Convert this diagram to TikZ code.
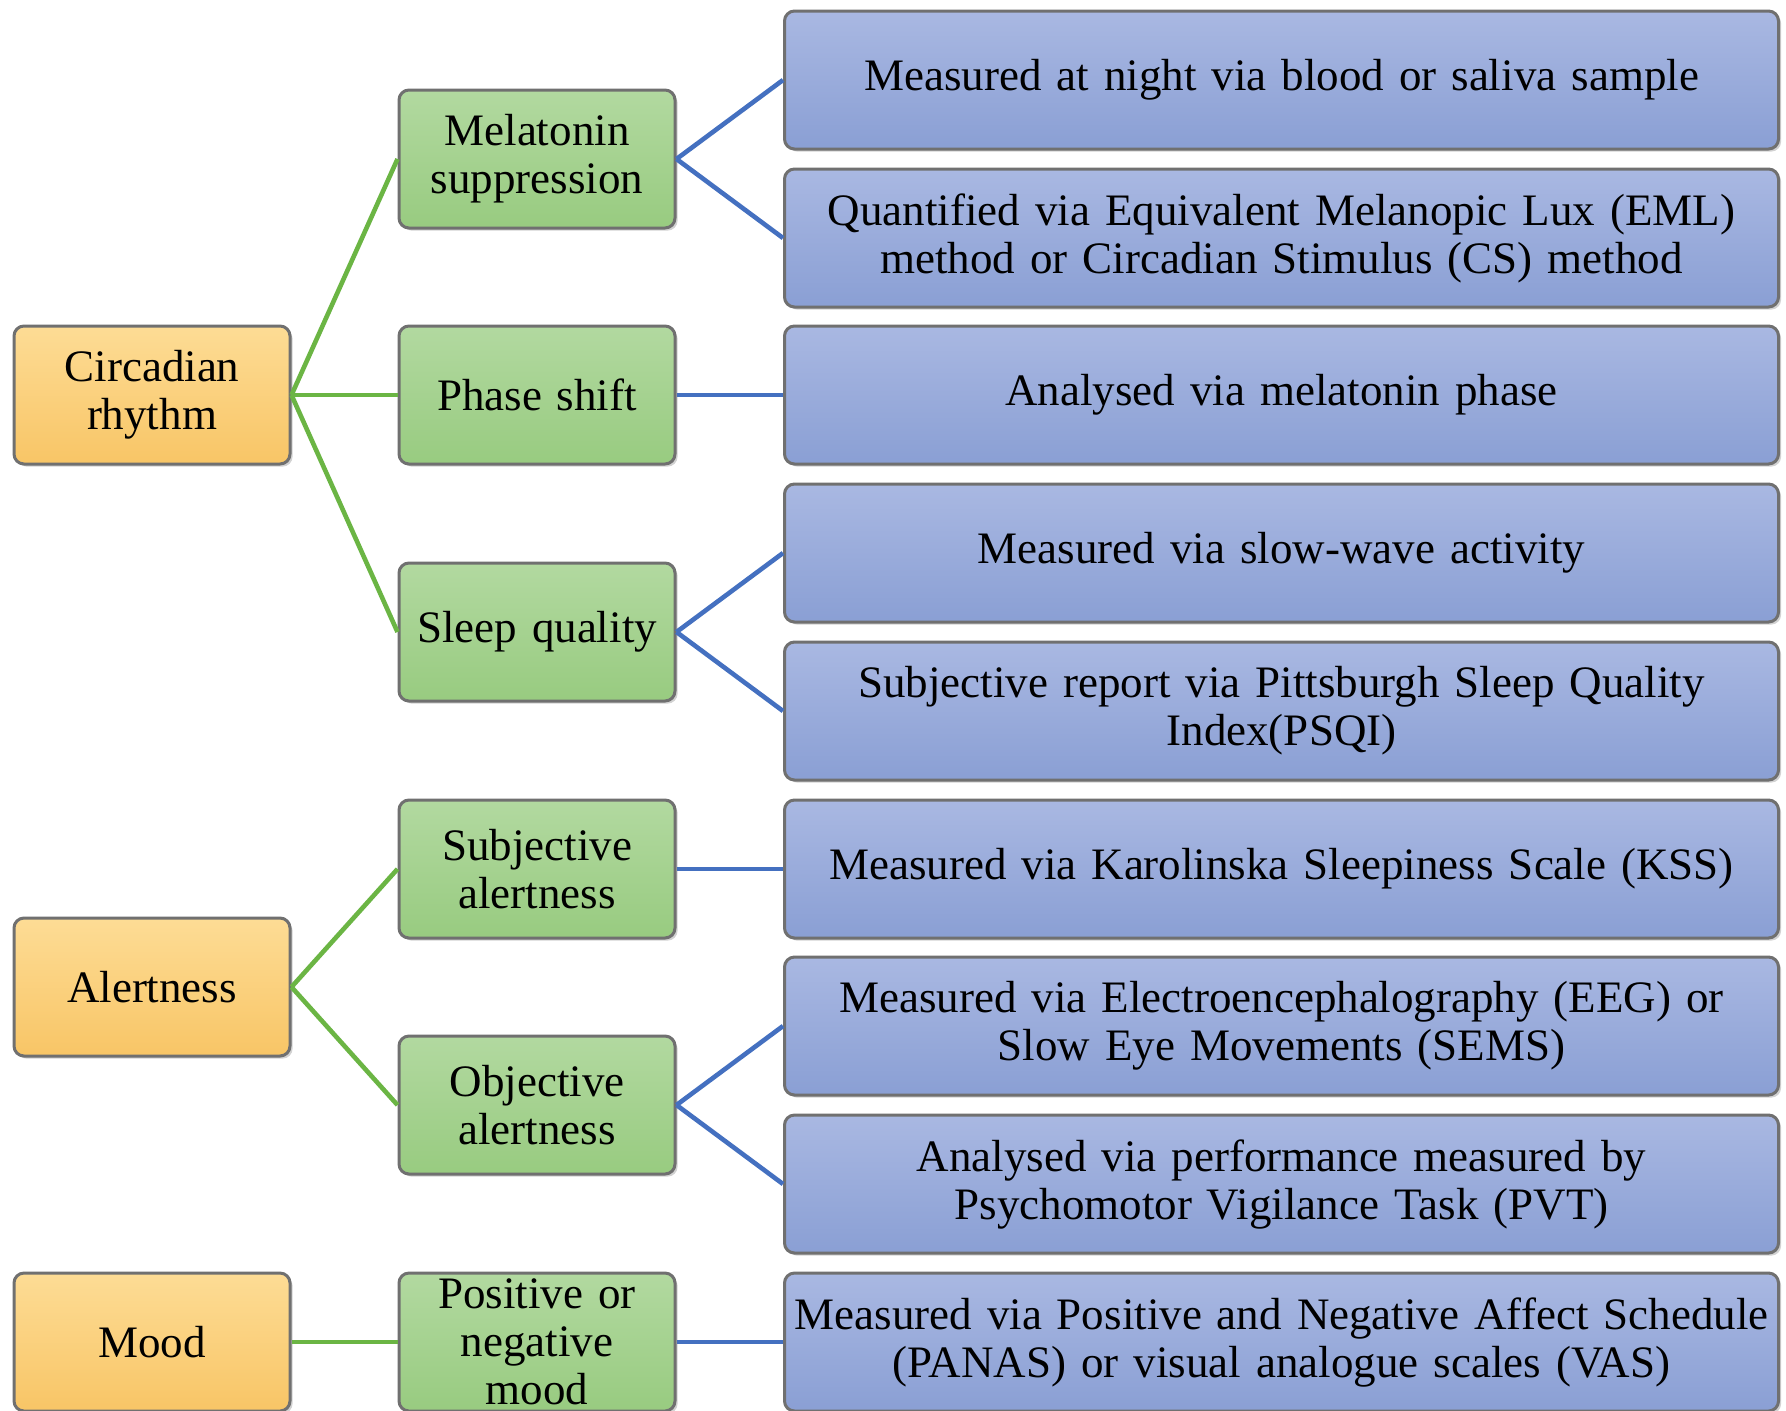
\documentclass[tikz,border=0pt]{standalone}
\usepackage{fontspec}
\setmainfont{Liberation Serif}
\usetikzlibrary{shadows}
\definecolor{orTop}{HTML}{FDDC95}
\definecolor{orBot}{HTML}{F8C566}
\definecolor{grTop}{HTML}{B2D9A0}
\definecolor{grBot}{HTML}{98CB80}
\definecolor{blTop}{HTML}{A9B8E2}
\definecolor{blBot}{HTML}{8A9FD4}
\definecolor{bord}{HTML}{707070}
\definecolor{gline}{HTML}{6BB544}
\definecolor{bline}{HTML}{4470C0}
\tikzset{
  base/.style={draw=bord, line width=1.5pt, rounded corners=5pt, minimum height=69pt,
    align=center, font=\fontsize{22.5}{24}\selectfont, inner sep=0pt,
    drop shadow={shadow xshift=1.3pt, shadow yshift=-1.3pt, opacity=0.35}},
  orbox/.style={base, top color=orTop, bottom color=orBot, minimum width=138pt, text width=137pt},
  grbox/.style={base, top color=grTop, bottom color=grBot, minimum width=138pt, text width=137pt},
  blbox/.style={base, top color=blTop, bottom color=blBot, minimum width=497pt, text width=496pt},
  gl/.style={draw=gline, line width=2.3pt},
  bl/.style={draw=bline, line width=2.3pt}
}
\begin{document}
\begin{tikzpicture}[x=0.5pt, y=-0.5pt]
\useasboundingbox (0,0) rectangle (1786,1410);
\clip (0,0) rectangle (1786,1410);
\fill[white] (0,0) rectangle (1786,1410);
% orange
\node[orbox] (circ) at (152,395) {Circadian\\rhythm};
\node[orbox] (alert) at (152,987) {Alertness};
\node[orbox] (mood) at (152,1342) {Mood};
% green
\node[grbox] (mel) at (537,159) {Melatonin\\suppression};
\node[grbox] (phase) at (537,395) {Phase shift};
\node[grbox] (sleep) at (537,632) {Sleep quality};
\node[grbox] (subj) at (537,869) {Subjective\\alertness};
\node[grbox] (obj) at (537,1105) {Objective\\alertness};
\node[grbox] (pos) at (537,1342) {Positive or\\negative\\mood};
% blue
\node[blbox] (b0) at (1281.5,80) {Measured at night via blood or saliva sample};
\node[blbox] (b1) at (1281.5,238) {Quantified via Equivalent Melanopic Lux (EML)\\method or Circadian Stimulus (CS) method};
\node[blbox] (b2) at (1281.5,395) {Analysed via melatonin phase};
\node[blbox] (b3) at (1281.5,553) {Measured via slow-wave activity};
\node[blbox] (b4) at (1281.5,711) {Subjective report via Pittsburgh Sleep Quality\\Index(PSQI)};
\node[blbox] (b5) at (1281.5,869) {Measured via Karolinska Sleepiness Scale (KSS)};
\node[blbox] (b6) at (1281.5,1026) {Measured via Electroencephalography (EEG) or\\Slow Eye Movements (SEMS)};
\node[blbox] (b7) at (1281.5,1184) {Analysed via performance measured by\\Psychomotor Vigilance Task (PVT)};
\node[blbox] (b8) at (1281.5,1342) {Measured via Positive and Negative Affect Schedule\\(PANAS) or visual analogue scales (VAS)};
% green connectors
\draw[gl] (circ.east) -- (mel.west);
\draw[gl] (circ.east) -- (phase.west);
\draw[gl] (circ.east) -- (sleep.west);
\draw[gl] (alert.east) -- (subj.west);
\draw[gl] (alert.east) -- (obj.west);
\draw[gl] (mood.east) -- (pos.west);
% blue connectors
\draw[bl] (mel.east) -- (b0.west);
\draw[bl] (mel.east) -- (b1.west);
\draw[bl] (phase.east) -- (b2.west);
\draw[bl] (sleep.east) -- (b3.west);
\draw[bl] (sleep.east) -- (b4.west);
\draw[bl] (subj.east) -- (b5.west);
\draw[bl] (obj.east) -- (b6.west);
\draw[bl] (obj.east) -- (b7.west);
\draw[bl] (pos.east) -- (b8.west);
\end{tikzpicture}
\end{document}
